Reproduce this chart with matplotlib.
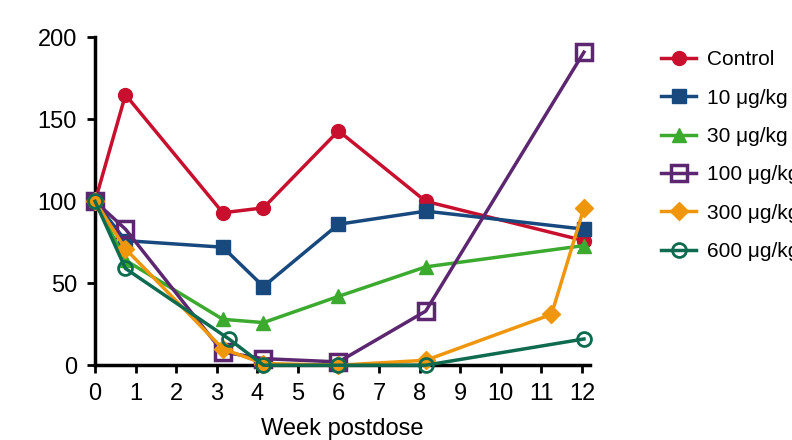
from matplotlib import pyplot as plt

plt.rcParams['font.family'] = ['Liberation Sans', 'DejaVu Sans']

labels = ["Control", "10 \u03bcg/kg", "30 \u03bcg/kg", "100 \u03bcg/kg", "300 \u03bcg/kg", "600 \u03bcg/kg"]

weeks = [0, 0.75, 3.15, 4.15, 6, 8.15, 12.05]
control = [100, 165, 93, 96, 143, 100, 76]
d10 = [100, 76, 72, 48, 86, 94, 83]
d30 = [100, 64, 28, 26, 42, 60, 73]
d100 = [100, 83, 8, 4, 2, 33, 191]

weeks300 = [0, 0.75, 3.15, 4.15, 6, 8.15, 11.25, 12.05]
d300 = [100, 71, 10, 1, 0, 3, 31, 96]

weeks600 = [0, 0.75, 3.3, 4.15, 6, 8.15, 12.05]
d600 = [100, 59, 16, 0, 0, 0, 16]

colors = ["#C8102E", "#17497F", "#3BAA2E", "#5C2670", "#F0960C", "#0E6B50"]

fig = plt.figure(figsize=(7.92, 4.4), dpi=100)
ax = fig.add_axes([0.12, 0.17, 0.625, 0.745])

ms = 10
ax.plot(weeks, control, color=colors[0], marker="o", ms=ms, lw=2.5, label=labels[0], clip_on=False, zorder=3)
ax.plot(weeks, d10, color=colors[1], marker="s", ms=ms, lw=2.5, label=labels[1], clip_on=False, zorder=3)
ax.plot(weeks, d30, color=colors[2], marker="^", ms=ms, lw=2.5, label=labels[2], clip_on=False, zorder=3)
ax.plot(weeks, d100, color=colors[3], marker="s", ms=ms + 1, mfc="none", mew=2.5, lw=2.5, label=labels[3], clip_on=False, zorder=3)
ax.plot(weeks300, d300, color=colors[4], marker="D", ms=ms - 1, lw=2.5, label=labels[4], clip_on=False, zorder=3)
ax.plot(weeks600, d600, color=colors[5], marker="o", ms=ms, mfc="none", mew=2, lw=2.5, label=labels[5], clip_on=False, zorder=3)

ax.set_xlim(0, 12.2)
ax.set_ylim(0, 200)
ax.set_xticks(range(0, 13))
ax.set_yticks([0, 50, 100, 150, 200])
ax.spines["top"].set_visible(False)
ax.spines["right"].set_visible(False)
ax.spines["left"].set_linewidth(2.5)
ax.spines["bottom"].set_linewidth(2.5)
ax.spines["left"].set_bounds(0, 200)
ax.tick_params(width=2, length=6, labelsize=17, pad=7)
ax.set_xlabel("Week postdose", fontsize=17, labelpad=9)

fig.legend(loc="upper left", bbox_to_anchor=(0.824, 0.905), frameon=False, fontsize=15,
           handlelength=1.7, labelspacing=0.93, handletextpad=0.5, borderaxespad=0)

plt.savefig("out.png", dpi=100)
